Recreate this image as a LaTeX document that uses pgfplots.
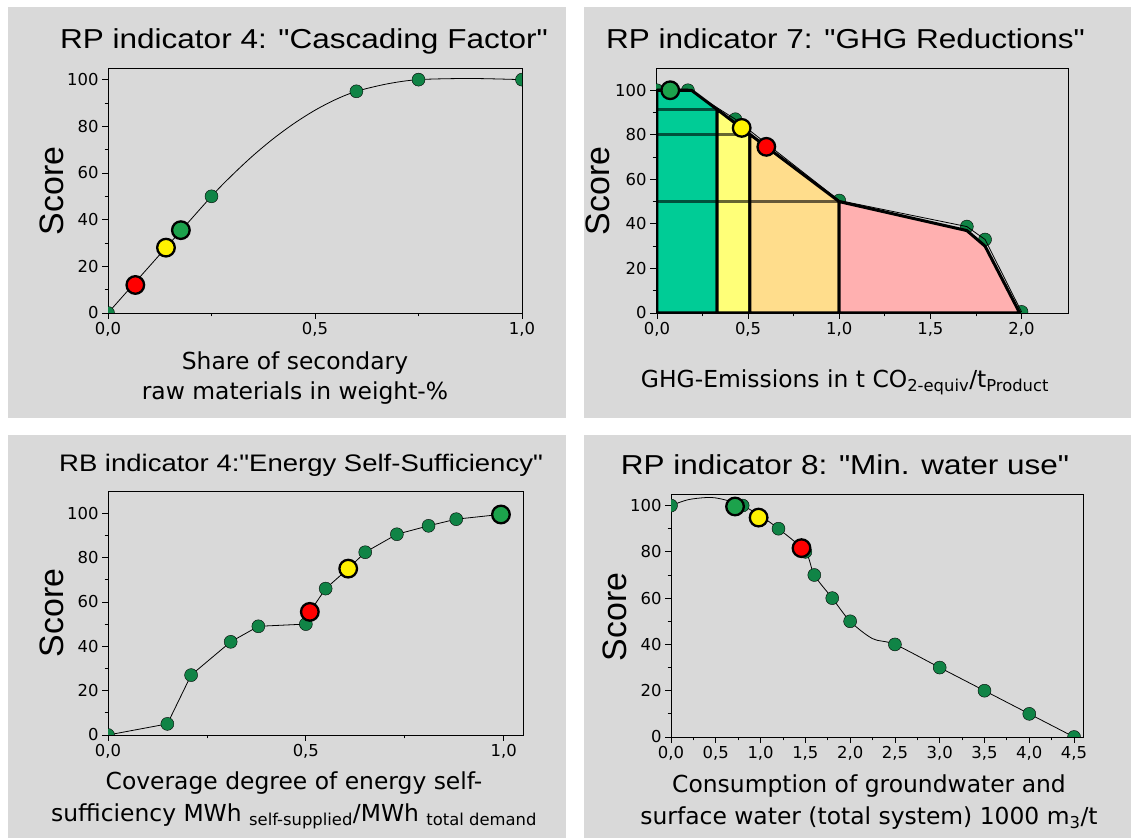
\documentclass[border=0pt]{standalone}
\usepackage{pgfplots}
\pgfplotsset{compat=1.18}
\usepackage{fontspec}
\setmainfont{DejaVu Sans}
\newfontfamily\titlefont[FakeStretch=1.15]{Liberation Sans}
\newfontfamily\scorefont{Liberation Sans}
\definecolor{panelgray}{RGB}{217,217,217}
\definecolor{dotgreen}{RGB}{16,132,70}
\definecolor{higreen}{RGB}{28,162,76}
\definecolor{zgreen}{RGB}{0,204,150}
\definecolor{zyellow}{RGB}{255,255,120}
\definecolor{zorange}{RGB}{255,221,140}
\definecolor{zpink}{RGB}{255,176,176}
\pgfplotsset{
  panel/.style={
    scale only axis, anchor=south west,
    /pgf/number format/assume math mode=true,
    axis line style={line width=0.8bp},
    tick align=outside, xtick pos=bottom, ytick pos=left,
    major tick length=6bp, minor tick length=3.5bp,
    tick style={black, line width=0.8bp},
    ymin=0, ytick={0,20,40,60,80,100}, minor y tick num=1,
    minor x tick num=1,
    ticklabel style={font=\fontsize{16.5}{19}\selectfont},
    xticklabel style={/pgf/number format/.cd, fixed, fixed zerofill, precision=1, use comma},
    clip marker paths=true,
  },
  gdot/.style={only marks, mark=*, mark size=6.5bp, mark options={draw=none, fill=dotgreen}},
  hi/.style={only marks, mark=*, mark size=8.8bp, mark options={draw=black, line width=2.3bp, fill=#1}},
  curve/.style={black, line width=0.8bp, mark=none},
  zone/.style={fill=#1, draw=black, line width=3bp, line join=round},
  hline/.style={black, opacity=0.6, line width=2.4bp},
}
\begin{document}
\begin{tikzpicture}[x=1bp,y=1bp]
\useasboundingbox (0,0) rectangle (1131,838);
\fill[white] (0,0) rectangle (1131,838);
\fill[panelgray] (8,420) rectangle (566,830.5);
\fill[panelgray] (584,420) rectangle (1131,830.5);
\fill[panelgray] (8,0) rectangle (566,403);
\fill[panelgray] (584,0) rectangle (1131,403);

% ---------- Panel 1 ----------
\begin{axis}[panel, at={(108bp,525bp)}, width=414bp, height=245bp,
  xmin=0, xmax=1, ymax=105, xtick={0,0.5,1}]
\addplot[curve, smooth] coordinates {(0,0)(0.125,25)(0.25,50)(0.3,59.1)(0.35,67.4)(0.4,74.8)(0.45,81.3)(0.5,86.9)(0.55,91.5)(0.6,95)(0.675,98.2)(0.75,100)(0.875,100.5)(1,100)};
\addplot[gdot] coordinates {(0,0)(0.25,50)(0.6,95)(0.75,100)(1,100)};
\addplot[hi=red] coordinates {(0.066,12)};
\addplot[hi=yellow] coordinates {(0.14,28)};
\addplot[hi=higreen] coordinates {(0.176,35.5)};
\end{axis}

% ---------- Panel 2 ----------
\begin{axis}[panel, at={(656bp,525bp)}, width=412bp, height=245bp,
  xmin=-0.005, xmax=2.255, ymax=110, xtick={0,0.5,1,1.5,2}]
\addplot[gdot] coordinates {(0,100)(0.17,100)(0.43,87)(1.0,50.5)(1.7,38.8)(1.8,33)(2.0,0.5)};
\addplot[zone=zgreen] coordinates {(0,0)(0,100)(0.19,100)(0.33,91.4)(0.33,0)} -- cycle;
\addplot[zone=zyellow] coordinates {(0.33,0)(0.33,91.4)(0.51,80.2)(0.51,0)} -- cycle;
\addplot[zone=zorange] coordinates {(0.51,0)(0.51,80.2)(1.0,50)(1.0,0)} -- cycle;
\addplot[zone=zpink] coordinates {(1.0,0)(1.0,50)(1.7,37)(1.8,30)(1.99,0)} -- cycle;
\addplot[hline] coordinates {(0,91.4)(0.33,91.4)};
\addplot[hline] coordinates {(0,80.2)(0.51,80.2)};
\addplot[hline] coordinates {(0,50)(1.0,50)};
\addplot[curve] coordinates {(0,100.5)(0.17,100.5)(0.43,87)(1.0,50.5)(1.7,38.8)(1.8,33)(2.0,0.5)};
\addplot[hi=higreen] coordinates {(0.073,100)};
\addplot[hi=yellow] coordinates {(0.465,83.1)};
\addplot[hi=red] coordinates {(0.60,74.6)};
\end{axis}

% ---------- Panel 3 ----------
\begin{axis}[panel, at={(108bp,103bp)}, width=415.5bp, height=244bp,
  xmin=0, xmax=1.05, ymax=110, xtick={0,0.5,1}]
\addplot[curve] coordinates {(0,0)(0.15,5)(0.21,27)(0.31,42)(0.38,49)(0.5,50)(0.51,55.5)(0.55,66)(0.607,75)(0.65,82.4)(0.73,90.5)(0.81,94.3)(0.88,97.3)(0.99,99.4)};
\addplot[gdot] coordinates {(0,0)(0.15,5)(0.21,27)(0.31,42)(0.38,49)(0.5,50)(0.55,66)(0.65,82.4)(0.73,90.5)(0.81,94.3)(0.88,97.3)(0.99,99.4)};
\addplot[hi=red] coordinates {(0.51,55.5)};
\addplot[hi=yellow] coordinates {(0.607,75)};
\addplot[hi=higreen] coordinates {(0.993,99.4)};
\end{axis}

% ---------- Panel 4 ----------
\begin{axis}[panel, at={(671bp,101bp)}, width=412bp, height=243bp,
  xmin=0, xmax=4.6, ymax=105, xtick={0,0.5,1,1.5,2,2.5,3,3.5,4,4.5}]
\addplot[curve, smooth] coordinates {(0,100)(0.2,102.6)(0.45,103.5)(0.65,102)(0.8,100)(1.0,95.5)(1.2,90)(1.5,80)(1.6,70)(1.8,60)(2.0,50)(2.25,42.5)(2.5,40)(3.0,30)(3.5,20)(4.0,10)(4.5,0)};
\addplot[gdot] coordinates {(0,100)(0.8,100)(1.2,90)(1.5,80)(1.6,70)(1.8,60)(2.0,50)(2.5,40)(3.0,30)(3.5,20)(4.0,10)(4.5,0)};
\addplot[hi=higreen] coordinates {(0.715,99.6)};
\addplot[hi=yellow] coordinates {(0.978,94.8)};
\addplot[hi=red] coordinates {(1.457,81.6)};
\end{axis}

% ---------- Titles ----------
\node[anchor=base, font=\titlefont\fontsize{27.5}{32}\selectfont] at (304,789) {RP indicator 4: "Cascading Factor"};
\node[anchor=base, font=\titlefont\fontsize{27.5}{32}\selectfont] at (845.5,789) {RP indicator 7: "GHG Reductions"};
\node[anchor=base, font=\titlefont\fontsize{24}{28}\selectfont] at (301,366) {RB indicator 4:"Energy Self-Sufficiency"};
\node[anchor=base, font=\titlefont\fontsize{27.5}{32}\selectfont] at (845,363) {RP indicator 8: "Min. water use"};

% ---------- Score labels ----------
\node[rotate=90, font=\scorefont\fontsize{34}{40}\selectfont] at (52,647) {Score};
\node[rotate=90, font=\scorefont\fontsize{34}{40}\selectfont] at (598,647) {Score};
\node[rotate=90, font=\scorefont\fontsize{34}{40}\selectfont] at (52,225) {Score};
\node[rotate=90, font=\scorefont\fontsize{34}{40}\selectfont] at (615,221) {Score};

% ---------- x labels ----------
\node[anchor=base, font=\fontsize{23.5}{28}\selectfont] at (295,468) {Share of secondary};
\node[anchor=base, font=\fontsize{23.5}{28}\selectfont] at (295,438) {raw materials in weight-\%};
\node[anchor=base, font=\fontsize{23.5}{28}\selectfont] at (845,450) {GHG-Emissions in t CO\textsubscript{2-equiv}/t\textsubscript{Product}};
\node[anchor=base, font=\fontsize{23.5}{28}\selectfont] at (294,48) {Coverage degree of energy self-};
\node[anchor=base, font=\fontsize{23.5}{28}\selectfont] at (294,16) {sufficiency MWh \textsubscript{self-supplied}/MWh \textsubscript{total demand}};
\node[anchor=base, font=\fontsize{23.5}{28}\selectfont] at (869,45) {Consumption of groundwater and};
\node[anchor=base, font=\fontsize{23.5}{28}\selectfont] at (869,13) {surface water (total system) 1000 m\textsubscript{3}/t};
\end{tikzpicture}
\end{document}
